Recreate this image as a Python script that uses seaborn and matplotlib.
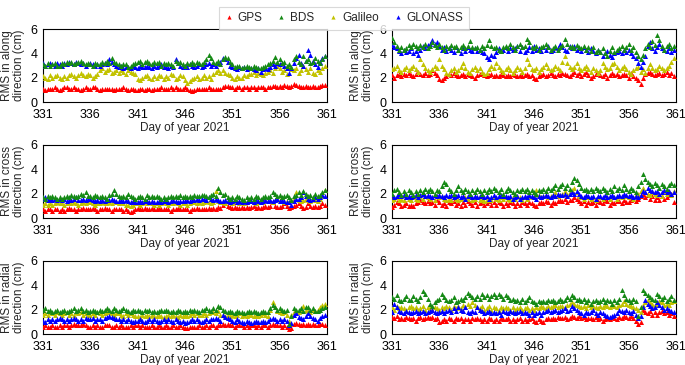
import numpy as np
import pandas as pd
import matplotlib
matplotlib.use("Agg")
import matplotlib.pyplot as plt
from matplotlib.lines import Line2D
import seaborn as sns

systems = ["GPS", "BDS", "Galileo", "GLONASS"]
colors = {"GPS": "#ff0000", "BDS": "#168a16", "Galileo": "#c2c200", "GLONASS": "#0000ff"}
days = np.arange(331, 361, 0.25)
xticks = [331, 336, 341, 346, 351, 356, 361]
yticks = [0, 2, 4, 6]

# ---------------- along, left ----------------
along_l_gps = [1.1,1.0,1.1,1.1, 1.1,1.2,1.1,1.0, 1.1,1.2,1.2,1.1, 1.1,1.2,1.1,1.1, 1.0,1.1,1.2,1.1, 1.1,1.2,1.2,1.1, 1.0,1.1,1.1,1.1, 1.1,1.1,1.0,1.1, 1.1,1.1,1.2,1.1, 1.0,1.1,1.1,1.0,
               1.0,1.1,1.1,1.0, 1.1,1.1,1.0,1.1, 1.1,1.1,1.2,1.1, 1.1,1.1,1.2,1.1, 1.2,1.1,1.1,1.1, 1.2,1.1,1.0,0.9, 1.0,1.1,1.1,1.1, 1.1,1.1,1.2,1.1, 1.1,1.1,1.1,1.1, 1.2,1.3,1.3,1.2,
               1.2,1.1,1.2,1.2, 1.1,1.2,1.2,1.1, 1.2,1.2,1.1,1.2, 1.2,1.2,1.1,1.2, 1.2,1.3,1.3,1.2, 1.3,1.2,1.4,1.3, 1.2,1.3,1.5,1.4, 1.3,1.2,1.2,1.3, 1.2,1.2,1.3,1.2, 1.2,1.3,1.4,1.4]
along_l_bds = [3.1,3.0,3.2,3.0, 3.1,3.2,3.0,3.0, 3.2,3.1,3.3,3.2, 3.3,3.1,3.2,3.3, 3.4,3.2,3.1,3.2, 3.1,3.0,3.2,3.1, 3.1,3.3,3.2,3.4, 3.2,3.6,3.3,3.2, 3.1,3.0,3.1,3.1, 2.9,3.0,3.1,3.2,
               3.3,3.4,3.1,3.3, 3.4,3.2,3.1,3.3, 3.2,3.3,3.0,3.2, 3.1,3.2,3.1,3.0, 3.4,3.2,3.3,3.1, 3.0,3.2,3.1,3.3, 3.1,3.3,3.2,3.1, 3.3,3.5,3.9,3.6, 3.3,3.2,3.4,3.1, 3.5,3.7,3.6,3.3,
               3.1,2.9,3.0,3.0, 2.8,2.9,3.0,2.9, 2.8,3.0,2.9,2.8, 2.8,2.9,3.0,3.1, 3.2,3.4,3.7,3.3, 3.5,3.2,3.3,3.0, 3.1,2.9,3.5,3.8, 3.3,3.1,3.8,3.4, 3.5,3.2,3.3,3.6, 3.4,3.2,3.5,3.8]
along_l_gal = [2.1,2.0,1.9,2.2, 2.0,2.1,2.2,2.0, 1.9,2.1,2.0,2.2, 2.3,2.1,2.0,2.2, 2.4,2.2,2.1,2.3, 2.2,2.0,2.1,2.3, 2.6,2.8,2.5,2.6, 2.7,2.4,2.5,2.6, 2.4,2.6,2.5,2.3, 2.6,2.5,2.4,2.3,
               1.9,1.8,2.0,2.1, 2.2,2.0,1.9,2.1, 2.0,2.2,2.1,1.9, 2.1,2.0,2.3,2.2, 1.9,2.0,2.2,2.1, 1.8,1.6,1.7,1.9, 2.0,2.1,1.9,2.0, 2.2,2.0,2.1,1.9, 2.3,2.5,2.6,2.4, 2.6,2.4,2.3,2.2,
               2.0,1.9,2.1,2.0, 2.0,2.2,2.1,2.3, 2.3,2.5,2.2,2.4, 2.3,2.2,2.4,2.5, 2.6,2.4,2.8,3.0, 2.8,2.5,2.6,2.3, 2.9,2.7,2.6,2.8, 2.4,2.6,3.0,2.7, 2.5,2.8,2.4,2.3, 2.6,2.5,2.8,3.0]
along_l_glo = [3.2,3.0,3.1,3.2, 3.1,3.0,3.2,3.1, 3.0,3.2,3.1,3.3, 3.2,3.1,3.3,3.2, 3.1,3.2,3.0,3.1, 3.2,3.1,3.0,3.1, 3.0,3.1,3.2,3.1, 3.5,3.3,3.1,3.0, 2.9,3.0,2.8,2.9, 2.9,2.8,3.0,2.9,
               2.8,3.0,2.9,2.9, 3.0,2.9,2.8,3.0, 2.9,3.0,3.1,2.9, 2.9,2.8,3.0,2.9, 3.5,3.2,3.0,2.9, 3.0,2.9,3.1,3.0, 2.9,3.0,3.1,2.9, 3.0,3.1,3.2,3.0, 3.1,3.0,3.2,3.3, 3.6,3.5,3.3,3.0,
               2.9,2.8,2.7,2.9, 2.8,2.9,2.7,2.8, 2.8,2.7,2.6,2.8, 2.5,2.7,2.8,2.7, 2.9,3.1,3.0,3.2, 3.1,3.2,3.0,2.8, 2.4,2.8,3.2,3.6, 3.9,3.2,3.0,3.4, 4.3,3.9,3.4,3.1, 2.9,3.3,3.6,3.8]

# ---------------- along, right ----------------
along_r_gps = [2.2,2.0,2.2,2.3, 2.1,2.3,2.2,2.4, 2.2,2.1,2.3,2.5, 2.3,2.2,2.4,2.2, 2.3,2.6,2.4,2.2, 1.9,1.8,2.0,2.1, 2.3,2.2,2.4,2.2, 2.1,2.2,2.3,2.1, 2.3,2.2,2.1,2.0, 2.2,2.3,2.4,2.2,
               2.1,2.2,2.3,2.1, 2.2,2.1,2.3,2.2, 2.1,2.2,2.1,2.3, 2.2,2.1,2.2,2.1, 2.2,2.3,2.1,2.2, 2.0,1.9,2.1,2.2, 2.3,2.1,2.2,2.4, 2.2,2.1,2.3,2.2, 2.4,2.3,2.2,2.1, 2.3,2.5,2.2,2.4,
               2.1,2.3,2.5,2.2, 2.0,2.1,2.3,2.4, 2.2,2.1,2.3,2.0, 2.2,2.4,2.2,2.3, 2.1,2.2,2.3,2.2, 2.0,2.4,2.1,2.0, 1.8,1.5,2.0,2.3, 2.4,2.5,2.3,2.2, 2.3,2.4,2.2,2.3, 2.5,2.2,2.4,2.1]
along_r_bds = [5.3,4.9,4.6,4.3, 4.5,4.3,4.4,4.7, 4.5,4.8,4.6,4.4, 4.7,4.5,4.8,4.4, 4.6,4.9,4.7,4.5, 4.8,4.5,4.3,4.6, 4.4,4.7,4.5,4.6, 4.3,4.5,4.7,4.4, 4.6,5.0,4.5,4.4, 4.5,4.3,4.6,4.4,
               4.7,5.1,4.6,4.4, 4.5,4.3,4.2,4.5, 4.6,4.4,4.8,4.5, 4.3,4.6,4.8,4.5, 4.6,5.2,4.9,4.5, 4.4,4.6,4.3,4.5, 4.6,4.8,4.5,4.3, 4.4,4.6,4.3,4.5, 4.7,5.2,4.8,4.5, 4.6,4.4,4.7,4.5,
               4.4,4.6,4.3,4.5, 4.2,4.5,4.1,4.3, 4.1,4.4,4.0,3.8, 4.2,4.5,4.1,4.3, 4.4,4.6,4.3,4.5, 4.8,4.3,4.5,4.1, 3.8,3.5,3.9,4.4, 4.8,4.5,5.0,4.7, 5.5,5.1,4.6,4.3, 4.6,4.8,4.4,4.6]
along_r_gal = [2.7,2.8,3.0,2.6, 2.5,2.7,2.9,2.6, 2.8,3.0,2.7,2.5, 3.5,3.1,2.8,2.6, 2.5,2.7,3.0,2.8, 3.5,3.0,2.7,2.4, 2.3,2.6,2.8,2.5, 2.6,2.9,3.2,2.8, 2.5,2.4,2.7,2.9, 2.6,2.8,2.5,2.3,
               2.4,2.7,3.0,2.8, 3.2,2.9,2.6,2.5, 2.7,2.9,2.6,2.4, 2.6,2.9,2.7,2.5, 2.8,3.5,3.1,2.7, 2.6,2.8,2.5,2.7, 2.9,3.1,2.8,2.6, 2.7,3.0,2.8,2.6, 3.3,3.8,3.2,2.9, 2.7,2.9,3.2,2.8,
               2.6,2.8,3.0,2.7, 2.5,2.8,2.6,2.4, 2.6,3.2,2.9,2.7, 2.8,3.1,3.2,2.9, 2.6,2.8,3.0,2.7, 2.5,2.3,2.6,2.8, 2.9,2.5,2.7,2.4, 2.8,3.1,2.8,2.6, 2.7,3.0,2.8,2.6, 2.8,3.0,3.3,3.6]
along_r_glo = [4.7,4.5,4.4,4.2, 4.0,4.3,4.1,4.2, 4.4,4.0,4.2,3.9, 4.3,4.6,4.4,4.7, 4.8,5.1,4.8,4.9, 4.6,4.3,4.5,4.2, 4.4,4.3,4.1,4.5, 4.3,4.0,4.4,4.2, 4.5,4.3,4.2,4.4, 4.2,4.3,4.1,4.0,
               3.7,3.5,3.9,3.8, 4.1,4.4,4.2,4.3, 4.5,4.2,4.4,4.3, 4.4,4.6,4.2,4.5, 4.1,4.3,4.5,4.2, 4.6,4.3,4.4,4.2, 4.5,4.3,4.6,4.2, 4.3,4.5,4.4,4.8, 4.5,4.3,4.2,4.6, 4.4,4.6,4.3,4.4,
               4.2,4.5,4.3,4.1, 4.4,4.2,4.0,4.3, 4.1,3.8,4.0,4.2, 3.9,3.7,4.0,4.1, 4.2,4.0,4.3,4.1, 4.3,4.0,3.8,3.6, 3.2,2.9,3.3,3.8, 4.6,4.9,4.4,4.2, 4.5,4.8,4.4,4.3, 4.2,4.4,4.1,4.3]

# ---------------- cross, left ----------------
cross_l_gps = [0.7,0.6,0.7,0.7, 0.6,0.7,0.7,0.6, 0.7,0.6,0.7,0.8, 0.7,0.7,0.6,0.7, 0.7,0.8,0.7,0.7, 0.7,0.8,0.7,0.6, 0.7,0.7,0.8,0.7, 0.7,0.6,0.7,0.7, 0.7,0.7,0.6,0.7, 0.6,0.5,0.6,0.7,
               0.8,0.7,0.7,0.8, 0.7,0.7,0.8,0.7, 0.7,0.8,0.7,0.7, 0.7,0.7,0.6,0.7, 0.7,0.8,0.7,0.7, 0.7,0.7,0.6,0.7, 0.7,0.8,0.7,0.7, 0.7,0.7,0.8,0.7, 0.8,0.7,0.9,0.8, 1.1,1.2,1.0,0.9,
               0.8,0.9,0.8,0.8, 0.9,0.8,0.9,0.8, 0.9,1.0,0.8,0.9, 0.8,0.9,1.0,0.9, 1.0,1.3,1.0,0.9, 0.9,1.0,1.2,1.0, 0.8,0.9,1.0,1.1, 1.2,1.0,0.8,0.9, 1.2,1.0,0.9,1.0, 0.9,1.0,1.2,1.1]
cross_l_bds = [1.7,1.6,1.8,1.7, 1.8,1.7,1.6,1.7, 1.6,1.7,1.8,1.7, 1.9,1.8,1.7,1.8, 2.0,1.9,2.1,1.8, 1.8,1.7,1.9,1.8, 1.7,1.8,1.7,1.6, 1.9,2.0,2.3,2.0, 1.8,1.7,1.8,1.7, 2.0,1.8,1.7,1.6,
               1.7,1.8,1.7,1.6, 1.9,1.7,1.8,1.7, 1.8,1.7,1.6,1.7, 1.6,1.7,1.8,1.7, 1.8,1.7,1.9,1.7, 1.8,1.7,1.8,1.7, 1.9,1.8,1.8,1.9, 1.9,1.8,1.7,1.9, 2.0,1.8,2.5,2.1, 1.9,2.0,1.7,1.6,
               1.7,1.6,1.8,1.7, 1.6,1.5,1.7,1.6, 1.7,1.6,1.8,1.7, 1.6,1.7,1.8,1.7, 1.8,2.1,2.0,1.8, 1.9,1.7,1.8,1.9, 1.7,1.5,1.8,1.9, 2.1,1.9,2.2,2.0, 1.8,1.9,1.7,2.0, 1.8,1.9,2.1,2.3]
cross_l_gal = [1.1,1.2,1.1,1.2, 1.1,1.2,1.3,1.2, 1.2,1.1,1.2,1.3, 1.2,1.3,1.2,1.1, 1.2,1.3,1.2,1.3, 1.3,1.2,1.1,1.2, 1.2,1.3,1.2,1.2, 1.3,1.2,1.4,1.3, 1.2,1.3,1.2,1.1, 1.1,1.0,1.1,1.2,
               1.2,1.1,1.2,1.3, 1.2,1.3,1.2,1.1, 1.2,1.1,1.2,1.3, 1.2,1.1,1.2,1.2, 1.3,1.2,1.1,1.2, 1.2,1.1,1.2,1.3, 1.3,1.2,1.3,1.2, 1.3,1.4,1.3,1.2, 1.3,2.2,1.4,1.3, 1.3,1.2,1.4,1.3,
               1.2,1.3,1.4,1.2, 1.3,1.2,1.3,1.4, 1.4,1.3,1.2,1.3, 1.4,1.3,1.5,1.4, 1.4,1.3,1.5,1.6, 1.5,1.4,1.3,1.4, 1.3,1.5,1.6,2.1, 1.5,1.4,1.5,1.6, 1.5,1.4,1.6,1.5, 1.4,1.6,1.8,2.3]
cross_l_glo = [1.6,1.7,1.5,1.6, 1.5,1.6,1.5,1.6, 1.5,1.6,1.4,1.5, 1.5,1.6,1.7,1.5, 1.5,1.6,1.5,1.6, 1.6,1.5,1.4,1.5, 1.4,1.5,1.4,1.5, 1.5,1.6,1.5,1.4, 1.4,1.5,1.4,1.5, 1.4,1.3,1.4,1.3,
               1.3,1.4,1.3,1.4, 1.4,1.3,1.4,1.3, 1.3,1.4,1.3,1.4, 1.4,1.3,1.4,1.5, 1.4,1.3,1.4,1.4, 1.4,1.5,1.4,1.5, 1.5,1.6,1.5,1.6, 1.6,1.5,1.7,1.6, 1.5,1.6,1.5,1.4, 1.4,1.5,1.4,1.3,
               1.4,1.5,1.3,1.4, 1.3,1.4,1.3,1.4, 1.4,1.3,1.5,1.4, 1.3,1.4,1.5,1.4, 1.5,1.4,1.5,1.6, 1.4,1.5,1.4,1.3, 1.3,1.1,1.4,1.6, 1.6,1.7,2.1,1.8, 1.6,1.5,1.6,1.7, 1.6,1.7,1.9,1.8]

# ---------------- cross, right ----------------
cross_r_gps = [0.9,1.1,1.3,1.2, 1.0,1.1,1.2,1.0, 1.1,1.0,1.2,1.3, 1.5,1.3,1.2,1.4, 1.2,1.3,1.1,1.5, 1.3,1.1,1.2,1.0, 1.3,1.2,1.4,1.1, 1.2,1.0,1.3,1.1, 1.4,1.2,1.1,1.3, 1.0,1.2,1.3,1.1,
               1.2,1.4,1.1,1.3, 1.1,1.3,1.2,1.0, 1.2,1.1,1.3,1.2, 1.0,1.2,1.1,1.3, 1.2,1.1,1.3,1.2, 1.1,1.0,1.2,1.3, 1.2,1.4,1.3,1.1, 1.3,1.2,1.4,1.5, 1.4,1.6,1.3,1.5, 1.5,1.7,1.6,1.4,
               1.2,1.4,1.1,1.3, 1.2,1.3,1.1,1.4, 1.3,1.2,1.5,1.4, 1.1,1.3,1.2,1.4, 1.4,1.2,1.5,1.3, 1.3,1.5,1.6,1.4, 1.6,1.8,2.0,1.7, 1.9,1.6,1.8,1.5, 1.7,1.5,1.8,1.6, 1.7,1.9,2.0,1.3]
cross_r_bds = [2.0,2.3,2.4,2.1, 1.9,2.2,2.0,2.3, 2.1,1.9,2.2,2.0, 2.3,2.1,2.4,2.2, 2.4,2.2,2.0,2.3, 2.2,2.6,3.0,2.8, 2.4,2.2,2.0,2.3, 2.6,2.3,2.1,2.4, 2.2,2.0,2.3,2.1, 2.4,2.2,2.0,2.3,
               2.1,2.4,2.2,2.5, 2.3,2.1,2.4,2.0, 2.2,2.5,2.3,2.1, 2.0,2.3,2.2,2.4, 2.2,2.4,2.1,2.3, 2.1,2.0,2.3,2.2, 2.4,2.2,2.5,2.3, 2.5,2.7,2.4,2.6, 2.8,2.5,2.7,2.4, 3.0,3.3,3.1,2.8,
               2.5,2.3,2.4,2.2, 2.4,2.2,2.5,2.3, 2.2,2.5,2.3,2.1, 2.4,2.2,2.6,2.3, 2.5,2.3,2.7,2.4, 2.2,2.5,2.3,2.1, 2.6,3.0,3.6,3.2, 3.0,2.8,2.6,2.9, 2.7,2.5,2.8,2.6, 2.4,2.7,2.9,2.7]
cross_r_gal = [1.5,1.6,1.7,1.5, 1.6,1.5,1.7,1.6, 1.5,1.7,1.6,1.5, 1.7,1.6,1.8,1.7, 1.6,1.7,1.5,1.8, 1.7,1.8,1.6,1.5, 1.6,1.5,1.7,1.6, 1.5,1.6,1.8,1.7, 1.6,1.7,1.5,1.6, 1.7,1.5,1.6,1.4,
               1.5,1.6,1.5,1.7, 1.6,1.5,1.7,1.6, 1.7,1.6,1.5,1.7, 1.6,1.8,1.7,1.5, 1.7,1.6,1.8,1.7, 1.8,2.3,1.9,1.7, 1.8,1.9,1.7,1.8, 1.9,2.1,1.8,1.9, 2.0,2.2,1.9,2.1, 2.3,2.5,2.1,1.8,
               1.7,1.6,1.8,1.7, 1.6,1.7,1.5,1.7, 1.7,1.6,1.8,1.7, 1.6,1.8,1.7,1.6, 1.8,1.7,1.9,1.8, 1.7,1.8,1.6,1.9, 2.0,2.2,2.5,2.1, 2.0,1.9,2.1,2.0, 1.9,2.0,1.8,2.1, 2.0,2.1,1.9,2.2]
cross_r_glo = [1.9,1.7,1.8,2.0, 1.8,1.9,1.7,1.8, 1.7,1.8,1.9,1.7, 1.9,2.0,1.8,1.9, 1.8,1.7,1.9,1.8, 1.9,1.8,1.7,1.9, 1.8,1.9,1.7,1.8, 1.9,1.7,1.8,1.6, 1.8,1.9,1.7,1.8, 1.7,1.8,1.9,1.7,
               1.8,1.6,1.7,1.9, 1.7,1.8,1.9,1.8, 1.8,1.7,1.8,1.6, 1.7,1.8,1.6,1.7, 1.8,1.7,1.9,1.8, 1.7,1.6,1.8,1.7, 1.8,1.9,1.8,1.7, 1.9,1.8,2.0,1.9, 1.9,2.0,1.8,2.0, 2.1,2.0,2.2,2.0,
               1.8,1.7,1.9,1.8, 1.7,1.8,1.6,1.8, 1.8,1.7,1.9,1.7, 1.8,1.9,1.7,1.8, 1.9,1.8,2.0,1.9, 1.8,1.9,1.7,1.8, 1.7,1.9,2.2,2.1, 2.5,2.3,2.2,2.1, 2.2,2.0,2.1,2.3, 2.1,2.2,2.0,2.1]

# ---------------- radial, left ----------------
radial_l_gps = [0.6,0.7,0.6,0.6, 0.7,0.6,0.6,0.7, 0.6,0.7,0.7,0.6, 0.7,0.8,0.7,0.7, 0.7,0.8,0.7,0.6, 0.6,0.7,0.6,0.7, 0.6,0.6,0.7,0.7, 0.7,0.6,0.6,0.7, 0.6,0.7,0.6,0.6, 0.6,0.7,0.6,0.7,
                0.7,0.6,0.7,0.6, 0.6,0.6,0.7,0.6, 0.6,0.7,0.6,0.6, 0.7,0.6,0.6,0.7, 0.6,0.6,0.7,0.6, 0.5,0.5,0.6,0.6, 0.6,0.6,0.7,0.6, 0.6,0.7,0.6,0.7, 0.7,0.6,0.7,0.7, 0.8,0.7,0.8,0.7,
                0.7,0.6,0.7,0.7, 0.7,0.6,0.7,0.6, 0.7,0.7,0.6,0.7, 0.6,0.7,0.7,0.6, 0.7,0.8,0.7,0.7, 0.7,0.6,0.7,0.6, 0.4,0.5,0.8,0.9, 0.8,0.7,0.8,0.7, 0.8,0.7,0.8,0.7, 0.7,0.8,0.8,0.7]
radial_l_bds = [2.0,2.1,1.9,2.0, 1.8,1.9,2.0,1.8, 1.9,2.0,1.8,1.9, 2.0,2.1,1.9,2.0, 2.1,1.9,2.0,1.8, 1.9,2.0,1.9,1.8, 2.0,1.9,2.0,2.1, 2.0,1.9,2.1,2.0, 1.9,2.0,2.1,2.0, 1.9,1.8,2.0,1.9,
                2.0,1.9,1.8,2.0, 1.9,2.0,1.8,1.9, 1.8,1.9,2.0,1.9, 2.0,1.9,1.8,1.9, 1.8,2.0,1.9,1.8, 1.9,1.8,2.0,1.9, 2.0,1.9,1.8,2.0, 2.0,2.1,2.0,1.9, 2.1,2.0,2.3,2.2, 2.0,1.9,1.8,1.9,
                1.8,1.7,1.9,1.8, 1.8,1.7,1.8,1.9, 1.8,1.9,1.8,1.7, 1.8,1.9,1.8,1.8, 2.1,2.4,2.2,2.0, 2.1,2.0,1.9,2.0, 0.8,1.5,2.1,2.0, 2.0,2.1,1.9,2.2, 2.2,2.0,2.1,1.9, 1.9,2.0,2.1,2.2]
radial_l_gal = [1.6,1.7,1.6,1.8, 1.7,1.6,1.8,1.7, 1.6,1.7,1.8,1.6, 1.7,1.6,1.8,1.7, 1.8,1.6,1.7,1.6, 1.6,1.7,1.6,1.8, 1.7,1.6,1.7,1.8, 1.8,1.7,1.6,1.7, 1.7,1.6,1.5,1.7, 1.6,1.7,1.6,1.5,
                1.5,1.4,1.6,1.5, 1.6,1.5,1.6,1.5, 1.5,1.6,1.5,1.4, 1.5,1.6,1.5,1.6, 1.5,1.4,1.6,1.5, 1.6,1.5,1.6,1.7, 1.6,1.7,1.6,1.6, 1.7,1.6,1.7,1.8, 1.8,1.7,1.9,1.6, 1.6,1.5,1.6,1.5,
                1.6,1.5,1.6,1.7, 1.5,1.6,1.5,1.6, 1.6,1.5,1.6,1.5, 1.6,1.7,1.6,1.5, 2.0,2.6,2.2,1.9, 1.8,1.7,1.8,1.6, 1.1,1.6,1.8,1.9, 1.8,2.0,2.3,2.0, 1.9,1.8,2.0,1.9, 2.0,2.2,2.4,2.5]
radial_l_glo = [1.1,1.0,1.2,1.1, 1.2,1.1,1.2,1.3, 1.2,1.1,1.2,1.1, 1.2,1.3,1.2,1.1, 1.2,1.1,1.3,1.2, 1.2,1.3,1.1,1.2, 1.2,1.1,1.3,1.4, 1.5,1.4,1.3,1.2, 1.2,1.1,1.2,1.1, 1.2,1.1,1.0,1.1,
                1.1,1.2,1.1,1.0, 1.1,1.2,1.1,1.2, 1.1,1.0,1.1,1.2, 1.1,1.2,1.1,1.0, 1.2,1.1,1.0,1.1, 0.9,1.0,1.1,1.2, 1.1,1.2,1.1,1.0, 1.1,1.2,1.1,1.2, 1.2,1.3,1.2,1.1, 1.6,1.4,1.3,1.2,
                1.1,1.0,1.2,1.1, 1.0,0.9,1.1,1.0, 0.9,1.0,1.1,1.0, 1.0,1.1,1.0,1.1, 1.2,1.3,1.2,1.1, 1.2,1.1,1.2,1.1, 0.7,0.9,1.6,1.7, 1.4,1.3,1.2,1.5, 1.7,1.5,1.3,1.2, 1.1,1.3,1.5,1.6]

# ---------------- radial, right ----------------
radial_r_gps = [1.4,1.3,1.5,1.2, 1.3,1.2,1.4,1.3, 1.2,1.3,1.1,1.3, 1.4,1.2,1.3,1.4, 1.3,1.4,1.2,1.3, 1.0,1.1,1.2,1.1, 1.3,1.2,1.1,1.3, 1.2,1.3,1.1,1.2, 1.2,1.1,1.3,1.2, 1.3,1.2,1.1,1.2,
                1.1,1.3,1.2,1.1, 1.2,1.1,1.3,1.2, 1.2,1.3,1.1,1.2, 1.1,1.2,1.3,1.1, 1.2,1.1,1.2,1.3, 1.1,1.0,1.2,1.1, 1.0,1.2,1.3,1.2, 1.3,1.2,1.4,1.3, 1.3,1.4,1.2,1.3, 1.5,1.4,1.3,1.5,
                1.3,1.4,1.2,1.3, 1.3,1.2,1.4,1.2, 1.3,1.1,1.2,1.3, 1.2,1.4,1.3,1.2, 1.4,1.3,1.5,1.4, 1.3,1.5,1.3,1.1, 0.8,1.0,2.0,1.8, 1.7,1.9,1.6,1.8, 1.6,1.8,1.9,1.7, 1.8,1.6,1.7,1.5]
radial_r_bds = [3.0,2.9,3.2,2.8, 2.7,2.9,3.1,2.8, 2.8,3.1,2.9,2.7, 3.0,3.5,3.3,2.9, 2.5,2.3,2.6,2.8, 2.9,3.3,3.0,2.8, 2.7,2.8,3.0,2.6, 2.7,2.9,2.8,3.0, 3.4,3.2,3.0,2.9, 3.1,2.9,3.3,3.0,
                3.2,2.9,3.1,3.3, 3.0,3.3,3.1,2.9, 3.2,3.0,2.8,2.9, 2.7,2.8,2.6,2.9, 2.6,2.8,3.0,2.7, 2.6,2.5,2.7,2.6, 2.7,2.6,2.8,2.7, 2.8,2.6,2.7,2.9, 2.7,2.8,3.0,2.9, 3.2,3.0,2.8,2.9,
                2.7,2.9,2.6,2.8, 2.5,2.7,2.8,2.6, 2.7,2.9,2.6,2.8, 2.7,2.5,2.8,2.6, 2.9,3.6,3.2,2.9, 2.8,2.6,2.9,2.7, 1.5,2.2,3.6,3.4, 3.2,3.0,2.9,2.8, 3.3,3.1,2.9,3.0, 2.7,2.9,3.1,2.8]
radial_r_gal = [2.2,2.0,2.3,2.1, 2.2,2.1,2.0,2.2, 2.3,2.1,2.2,2.0, 2.1,2.3,2.0,2.2, 2.1,2.0,2.2,2.1, 2.0,2.2,2.1,2.3, 2.2,2.0,2.3,2.1, 2.3,2.1,2.4,2.2, 2.5,2.3,2.6,2.4, 2.2,2.1,2.3,2.0,
                2.1,2.3,2.0,2.2, 2.1,2.0,2.2,2.1, 2.2,2.1,2.0,2.2, 2.0,2.1,2.2,2.0, 2.1,2.2,2.0,2.1, 2.0,2.2,2.1,2.3, 2.2,2.1,2.3,2.2, 2.3,2.4,2.2,2.3, 2.3,2.2,2.4,2.5, 2.6,2.5,2.4,2.3,
                2.2,2.3,2.1,2.4, 2.2,2.3,2.2,2.1, 2.3,2.2,2.4,2.3, 2.2,2.4,2.3,2.2, 2.4,2.5,2.7,2.5, 2.4,2.3,2.2,2.1, 2.0,1.8,2.4,2.6, 2.8,2.6,2.5,2.4, 2.5,2.7,2.6,2.4, 2.5,2.4,2.6,2.7]
radial_r_glo = [1.8,2.5,2.2,1.9, 1.8,1.7,1.9,1.8, 1.7,1.8,1.9,1.7, 1.8,1.9,1.7,1.8, 1.9,2.0,1.8,1.7, 1.8,1.9,1.7,1.9, 2.0,1.8,2.1,1.9, 2.2,2.0,1.9,2.2, 1.8,1.7,1.9,1.8, 2.2,2.0,1.9,1.7,
                1.8,1.9,1.7,1.8, 1.7,1.8,1.6,1.9, 1.8,1.7,1.9,1.8, 1.7,1.8,1.9,1.7, 1.8,1.7,1.6,1.8, 1.6,1.7,1.8,1.6, 1.8,1.9,2.0,1.8, 1.9,2.0,1.8,1.9, 2.0,2.1,1.9,2.0, 2.3,2.1,2.0,1.8,
                1.7,1.6,1.8,1.7, 1.8,2.0,1.7,1.6, 1.8,1.7,1.6,1.5, 1.4,1.5,1.6,1.7, 2.0,1.9,1.8,2.0, 1.8,1.7,1.9,1.6, 1.3,1.5,2.2,2.8, 2.5,2.3,2.1,2.2, 2.6,2.4,2.2,2.0, 2.1,2.0,1.9,1.8]

panels = [
    ("RMS in along\ndirection (cm)", [along_l_gps, along_l_bds, along_l_gal, along_l_glo]),
    ("RMS in along\ndirection (cm)", [along_r_gps, along_r_bds, along_r_gal, along_r_glo]),
    ("RMS in cross\ndirection (cm)", [cross_l_gps, cross_l_bds, cross_l_gal, cross_l_glo]),
    ("RMS in cross\ndirection (cm)", [cross_r_gps, cross_r_bds, cross_r_gal, cross_r_glo]),
    ("RMS in radial\ndirection (cm)", [radial_l_gps, radial_l_bds, radial_l_gal, radial_l_glo]),
    ("RMS in radial\ndirection (cm)", [radial_r_gps, radial_r_bds, radial_r_gal, radial_r_glo]),
]

sns.set_theme(style="white")
plt.rcParams["font.family"] = ["Liberation Sans", "DejaVu Sans"]

FS = 8.5
fig, axes = plt.subplots(3, 2, figsize=(6.85, 3.65), dpi=100)
fig.subplots_adjust(left=43/685, right=676/685, top=1-29/365, bottom=1-334/365,
                    wspace=0.229, hspace=0.589)

draw_order = ["GPS", "Galileo", "GLONASS", "BDS"]
for ax, (ylab, series) in zip(axes.flat, panels):
    frames = []
    for name, vals in zip(systems, series):
        frames.append(pd.DataFrame({"day": days, "rms": vals, "system": name}))
    df = pd.concat(frames, ignore_index=True)
    for name in draw_order:
        sub = df[df["system"] == name]
        sns.scatterplot(data=sub, x="day", y="rms", color=colors[name], marker="^",
                        s=13, linewidth=0, ax=ax, legend=False, zorder=3)
    ax.set_xlim(331, 361)
    ax.set_ylim(0, 6)
    ax.set_xticks(xticks)
    ax.set_yticks(yticks)
    ax.set_xlabel("Day of year 2021", fontsize=FS, labelpad=1)
    ax.set_ylabel(ylab, fontsize=FS, labelpad=4, linespacing=1.0)
    ax.tick_params(axis="both", direction="in", length=3, width=0.8, labelsize=FS + 0.5,
                   colors="black")
    ax.tick_params(axis="x", pad=5)
    ax.tick_params(axis="y", pad=4)
    for sp in ax.spines.values():
        sp.set_color("black")
        sp.set_linewidth(0.8)

handles = [Line2D([], [], linestyle="none", marker="^", markersize=3, color=colors[n],
                  markeredgewidth=0) for n in systems]
leg = fig.legend(handles, systems, loc="upper center", bbox_to_anchor=(344/685, 0.997), ncol=4,
                 fontsize=FS, frameon=True, fancybox=False, handlelength=0.7,
                 handletextpad=0.4, columnspacing=1.25, borderpad=0.45)
leg.get_frame().set_edgecolor("#d0d0d0")
leg.get_frame().set_linewidth(0.8)

fig.savefig("out.png", dpi=100)
